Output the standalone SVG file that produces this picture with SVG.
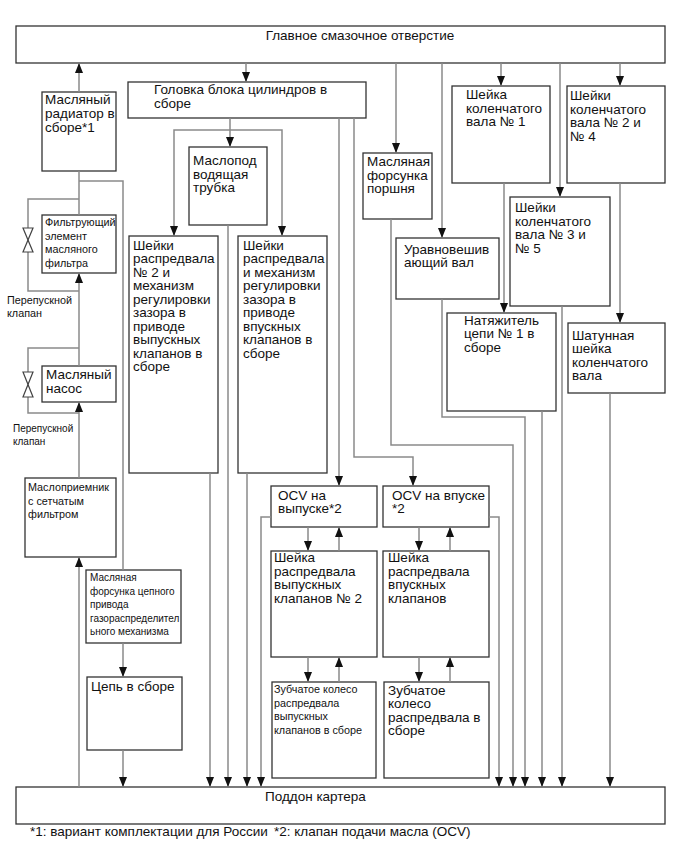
<svg xmlns="http://www.w3.org/2000/svg" width="689" height="853" viewBox="0 0 689 853">
<style>
.box{fill:#fff;stroke:#333;stroke-width:1.3}
text{font-family:"Liberation Sans",Arial,sans-serif;fill:#111}
.t{font-size:13.5px}
.s{font-size:10.8px}
.xs{font-size:10px}
.c{fill:none;stroke:#8a8a8a;stroke-width:1.5}
.v{fill:#fff;stroke:#444;stroke-width:1.2}
</style>
<defs>
<marker id="ahd" markerUnits="userSpaceOnUse" markerWidth="11" markerHeight="8" refX="10" refY="4" orient="auto" viewBox="0 0 11 8">
<path d="M0,0 L10,4 L0,8 Z" fill="#111"/>
</marker>
</defs>
<rect width="689" height="853" fill="#fff"/>

<g id="header"><rect class="box" x="16" y="26" width="649" height="37"/><text class="t" x="360" y="40" text-anchor="middle">Главное смазочное отверстие</text></g>
<g id="pan"><rect class="box" x="16" y="787" width="649" height="37"/><text class="t" x="265" y="801">Поддон картера</text></g>

<g id="radiator"><rect class="box" x="42" y="92" width="74" height="79"/><text class="t" x="45" y="104">Масляный<tspan x="45" dy="14">радиатор в</tspan><tspan x="45" dy="14">сборе*1</tspan></text></g>
<g id="filter"><rect class="box" x="42" y="215" width="74" height="58"/><text class="s" x="45" y="226">Фильтрующий<tspan x="45" dy="13.5">элемент</tspan><tspan x="45" dy="13.5">масляного</tspan><tspan x="45" dy="13.5">фильтра</tspan></text></g>
<g id="bypass1"><text class="s" x="7" y="304">Перепускной<tspan x="7" dy="13">клапан</tspan></text></g>
<g id="pump"><rect class="box" x="42" y="366" width="74" height="36"/><text class="t" x="46" y="379">Масляный<tspan x="46" dy="14">насос</tspan></text></g>
<g id="bypass2"><text class="xs" x="13" y="432">Перепускной<tspan x="13" dy="13">клапан</tspan></text></g>
<g id="strainer"><rect class="box" x="25" y="478" width="91" height="79"/><text class="s" x="28" y="491">Маслоприемник<tspan x="28" dy="13.5">с сетчатым</tspan><tspan x="28" dy="13.5">фильтром</tspan></text></g>
<g id="chainjet"><rect class="box" x="86" y="570" width="95" height="73"/><text class="xs" x="90" y="581">Масляная<tspan x="90" dy="13.5">форсунка цепного</tspan><tspan x="90" dy="13.5">привода</tspan><tspan x="90" dy="13.5">газораспределител</tspan><tspan x="90" dy="13.5">ьного механизма</tspan></text></g>
<g id="chain"><rect class="box" x="87" y="677" width="95" height="73"/><text class="t" x="91" y="691">Цепь в сборе</text></g>

<g id="head"><rect class="box" x="128" y="82" width="238" height="36"/><text class="t" x="154" y="94">Головка блока цилиндров в<tspan x="154" dy="14">сборе</tspan></text></g>
<g id="pipe"><rect class="box" x="189" y="147" width="78" height="78"/><text class="t" x="193" y="165">Маслопод<tspan x="193" dy="13.5">водящая</tspan><tspan x="193" dy="13.5">трубка</tspan></text></g>
<g id="exjournals"><rect class="box" x="129" y="236" width="89" height="237"/><text class="t" x="133" y="249.5">Шейки<tspan x="133" dy="13.5">распредвала</tspan><tspan x="133" dy="13.5">№ 2 и</tspan><tspan x="133" dy="13.5">механизм</tspan><tspan x="133" dy="13.5">регулировки</tspan><tspan x="133" dy="13.5">зазора в</tspan><tspan x="133" dy="13.5">приводе</tspan><tspan x="133" dy="13.5">выпускных</tspan><tspan x="133" dy="13.5">клапанов в</tspan><tspan x="133" dy="13.5">сборе</tspan></text></g>
<g id="injournals"><rect class="box" x="238" y="236" width="89" height="237"/><text class="t" x="243" y="249.5">Шейки<tspan x="243" dy="13.5">распредвала</tspan><tspan x="243" dy="13.5">и механизм</tspan><tspan x="243" dy="13.5">регулировки</tspan><tspan x="243" dy="13.5">зазора в</tspan><tspan x="243" dy="13.5">приводе</tspan><tspan x="243" dy="13.5">впускных</tspan><tspan x="243" dy="13.5">клапанов в</tspan><tspan x="243" dy="13.5">сборе</tspan></text></g>
<g id="ocvex"><rect class="box" x="271" y="486" width="106" height="41"/><text class="t" x="278" y="499.5">OCV на<tspan x="278" dy="13.5">выпуске*2</tspan></text></g>
<g id="ocvin"><rect class="box" x="383" y="486" width="106" height="41"/><text class="t" x="392" y="499.5">OCV на впуске<tspan x="392" dy="13.5">*2</tspan></text></g>
<g id="camex"><rect class="box" x="271" y="551" width="106" height="106"/><text class="t" x="274" y="562">Шейка<tspan x="274" dy="13.5">распредвала</tspan><tspan x="274" dy="13.5">выпускных</tspan><tspan x="274" dy="13.5">клапанов № 2</tspan></text></g>
<g id="camin"><rect class="box" x="383" y="551" width="106" height="106"/><text class="t" x="388" y="562">Шейка<tspan x="388" dy="13.5">распредвала</tspan><tspan x="388" dy="13.5">впускных</tspan><tspan x="388" dy="13.5">клапанов</tspan></text></g>
<g id="gearex"><rect class="box" x="272" y="682" width="104" height="96"/><text class="s" x="274" y="693">Зубчатое колесо<tspan x="274" dy="13.5">распредвала</tspan><tspan x="274" dy="13.5">выпускных</tspan><tspan x="274" dy="13.5">клапанов в сборе</tspan></text></g>
<g id="gearin"><rect class="box" x="384" y="682" width="105" height="96"/><text class="t" x="388" y="694.5">Зубчатое<tspan x="388" dy="13.5">колесо</tspan><tspan x="388" dy="13.5">распредвала в</tspan><tspan x="388" dy="13.5">сборе</tspan></text></g>

<g id="pistonjet"><rect class="box" x="363" y="153" width="69" height="66"/><text class="t" x="367" y="166">Масляная<tspan x="367" dy="13.5">форсунка</tspan><tspan x="367" dy="13.5">поршня</tspan></text></g>
<g id="balancer"><rect class="box" x="396" y="238" width="103" height="61"/><text class="t" x="404" y="253.5">Уравновешив<tspan x="404" dy="13.5">ающий вал</tspan></text></g>
<g id="crank1"><rect class="box" x="452" y="86" width="98" height="97"/><text class="t" x="466" y="99">Шейка<tspan x="466" dy="13.5">коленчатого</tspan><tspan x="466" dy="13.5">вала № 1</tspan></text></g>
<g id="crank24"><rect class="box" x="567" y="86" width="98" height="97"/><text class="t" x="570" y="100">Шейки<tspan x="570" dy="13.5">коленчатого</tspan><tspan x="570" dy="13.5">вала № 2 и</tspan><tspan x="570" dy="13.5">№ 4</tspan></text></g>
<g id="crank35"><rect class="box" x="510" y="197" width="100" height="109"/><text class="t" x="515" y="212">Шейки<tspan x="515" dy="13.5">коленчатого</tspan><tspan x="515" dy="13.5">вала № 3 и</tspan><tspan x="515" dy="13.5">№ 5</tspan></text></g>
<g id="tensioner"><rect class="box" x="447" y="313" width="109" height="98"/><text class="t" x="464" y="324.5">Натяжитель<tspan x="464" dy="13.5">цепи № 1 в</tspan><tspan x="464" dy="13.5">сборе</tspan></text></g>
<g id="crankpin"><rect class="box" x="568" y="323" width="97" height="70"/><text class="t" x="572" y="339.5">Шатунная<tspan x="572" dy="13.5">шейка</tspan><tspan x="572" dy="13.5">коленчатого</tspan><tspan x="572" dy="13.5">вала</tspan></text></g>

<g id="connectors">
<path class="c" d="M79 92V63" marker-end="url(#ahd)"/>
<path class="c" d="M79 215V171"/>
<path class="c" d="M79 181H123V570"/>
<path class="c" d="M79 199H28V291H79"/>
<path class="c" d="M79 366V273" marker-end="url(#ahd)"/>
<path class="c" d="M79 348H28V413H79"/>
<path class="c" d="M79 478V402" marker-end="url(#ahd)"/>
<path class="c" d="M79 787V557" marker-end="url(#ahd)"/>
<path class="c" d="M123 643V677" marker-end="url(#ahd)"/>
<path class="c" d="M123 750V787" marker-end="url(#ahd)"/>
<path class="c" d="M246 63V82" marker-end="url(#ahd)"/>
<path class="c" d="M230 118V147" marker-end="url(#ahd)"/>
<path class="c" d="M230 130H174V236" marker-end="url(#ahd)"/>
<path class="c" d="M230 130H282V236" marker-end="url(#ahd)"/>
<path class="c" d="M228 225V787" marker-end="url(#ahd)"/>
<path class="c" d="M210 473V787" marker-end="url(#ahd)"/>
<path class="c" d="M247 473V787" marker-end="url(#ahd)"/>
<path class="c" d="M339 118V486" marker-end="url(#ahd)"/>
<path class="c" d="M354 118V457H413V486" marker-end="url(#ahd)"/>
<path class="c" d="M271 517H261V787" marker-end="url(#ahd)"/>
<path class="c" d="M308 527V551" marker-end="url(#ahd)"/>
<path class="c" d="M339 551V527" marker-end="url(#ahd)"/>
<path class="c" d="M419 527V551" marker-end="url(#ahd)"/>
<path class="c" d="M450 551V527" marker-end="url(#ahd)"/>
<path class="c" d="M308 657V682" marker-end="url(#ahd)"/>
<path class="c" d="M339 682V657" marker-end="url(#ahd)"/>
<path class="c" d="M419 657V682" marker-end="url(#ahd)"/>
<path class="c" d="M450 682V657" marker-end="url(#ahd)"/>
<path class="c" d="M489 517H499V787" marker-end="url(#ahd)"/>
<path class="c" d="M396 63V153" marker-end="url(#ahd)"/>
<path class="c" d="M391 219V445H513V787" marker-end="url(#ahd)"/>
<path class="c" d="M442 63V238" marker-end="url(#ahd)"/>
<path class="c" d="M442 299V417H525V787" marker-end="url(#ahd)"/>
<path class="c" d="M501 63V86" marker-end="url(#ahd)"/>
<path class="c" d="M504 183V313" marker-end="url(#ahd)"/>
<path class="c" d="M542 411V787" marker-end="url(#ahd)"/>
<path class="c" d="M560 63V197" marker-end="url(#ahd)"/>
<path class="c" d="M562 306V787" marker-end="url(#ahd)"/>
<path class="c" d="M620 63V86" marker-end="url(#ahd)"/>
<path class="c" d="M620 183V323" marker-end="url(#ahd)"/>
<path class="c" d="M610 393V787" marker-end="url(#ahd)"/>
<path class="v" d="M23 228H33L23 252H33Z"/>
<path class="v" d="M23 372H33L23 397H33Z"/>
</g>

<text class="t" x="30" y="836">*1: вариант комплектации для России<tspan x="274">*2: клапан подачи масла (OCV)</tspan></text>
</svg>
